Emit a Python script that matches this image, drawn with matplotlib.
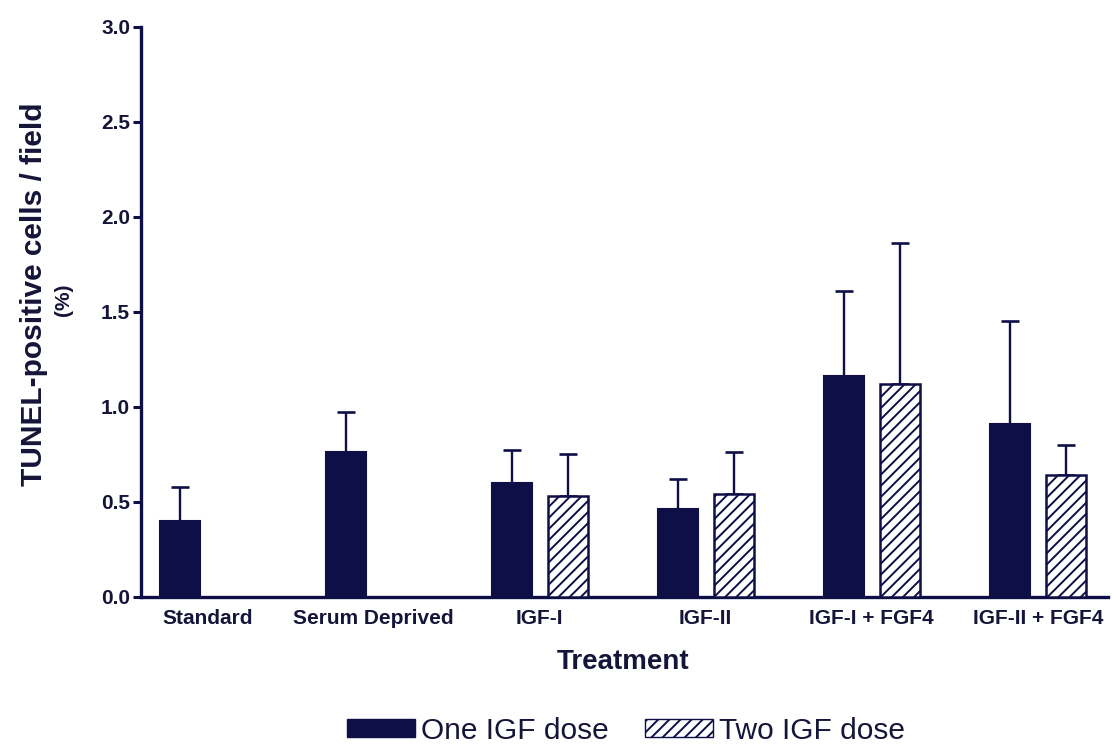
import matplotlib
matplotlib.use('Agg')
import matplotlib.pyplot as plt
from matplotlib.patches import Patch

# data
treatments = ['Standard', 'Serum Deprived', 'IGF-I', 'IGF-II', 'IGF-I + FGF4', 'IGF-II + FGF4']
one_dose = [0.40, 0.76, 0.60, 0.46, 1.16, 0.91]
one_err = [0.18, 0.21, 0.17, 0.16, 0.45, 0.54]
two_idx = [2, 3, 4, 5]   # groups that have a two-dose bar
two_dose = [0.53, 0.54, 1.12, 0.64]
two_err = [0.22, 0.22, 0.74, 0.16]
yticks = [0.0, 0.5, 1.0, 1.5, 2.0, 2.5, 3.0]

navy = '#0f0f48'
txt = '#15153a'

plt.rcParams['font.family'] = ['Liberation Sans', 'DejaVu Sans']
plt.rcParams['hatch.color'] = navy
plt.rcParams['hatch.linewidth'] = 1.4

fig = plt.figure(figsize=(11.12, 7.45), dpi=100)
ax = fig.add_axes([0.127, 0.199, 0.869, 0.765])

off = 0.169
w = 0.24
x1 = [i - off for i in range(len(treatments))]
x2 = [i + off for i in two_idx]

ax.bar(x1, one_dose, width=w, color=navy, edgecolor=navy, linewidth=1.5, zorder=3)
ax.bar(x2, two_dose, width=w, color='white', edgecolor=navy, linewidth=1.8,
       hatch='///', zorder=3)
ax.errorbar(x1, one_dose, yerr=[[0] * len(one_dose), one_err], fmt='none',
            ecolor=navy, elinewidth=1.7, capsize=6.5, capthick=1.9, zorder=2)
ax.errorbar(x2, two_dose, yerr=[[0] * len(two_dose), two_err], fmt='none',
            ecolor=navy, elinewidth=1.7, capsize=6.5, capthick=1.9, zorder=2)

ax.set_xlim(-0.40, 5.42)
ax.set_ylim(0, 3.0)
ax.set_yticks(yticks)
ax.set_yticklabels(['%.1f' % t for t in yticks], fontsize=15, fontweight='bold', color=txt)
ax.set_xticks(range(len(treatments)))
ax.set_xticklabels(treatments, fontsize=15, fontweight='bold', color=txt)
ax.tick_params(axis='x', length=0, pad=9)
ax.tick_params(axis='y', length=6, width=2.2, color=navy, pad=2)

for s in ['top', 'right']:
    ax.spines[s].set_visible(False)
for s in ['left', 'bottom']:
    ax.spines[s].set_color(navy)
    ax.spines[s].set_linewidth(2.4)

fig.text(34 / 1112, 1 - 294 / 745, 'TUNEL-positive cells / field', rotation=90,
         ha='center', va='center', fontsize=21.5, fontweight='bold', color=txt)
fig.text(63 / 1112, 1 - 300 / 745, '(%)', rotation=90,
         ha='center', va='center', fontsize=15, fontweight='bold', color=txt)
fig.text(623 / 1112, 1 - 662 / 745, 'Treatment', ha='center', va='center',
         fontsize=20, fontweight='bold', color=txt)

handles = [Patch(facecolor=navy, edgecolor=navy, label='One IGF dose'),
           Patch(facecolor='white', edgecolor=navy, hatch='///', label='Two IGF dose')]
fig.legend(handles=handles, loc='center', bbox_to_anchor=(626 / 1112, 1 - 731 / 745),
           ncol=2, frameon=False, fontsize=21.5, handlelength=2.3, handleheight=0.55,
           handletextpad=0.2, columnspacing=1.2, labelcolor=txt)

fig.savefig('out.png', dpi=100, facecolor='white')
